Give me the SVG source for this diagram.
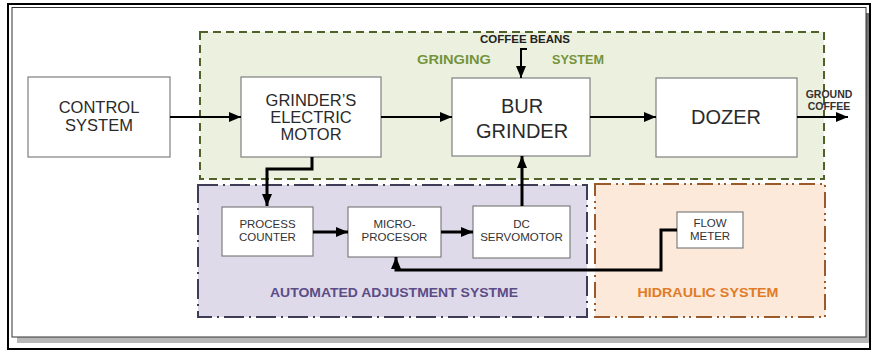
<svg xmlns="http://www.w3.org/2000/svg" width="872" height="350" viewBox="0 0 872 350">
<defs>
<marker id="ah" viewBox="0 0 12 10" markerWidth="12" markerHeight="10" refX="12" refY="5" orient="auto" markerUnits="userSpaceOnUse"><path d="M0,0 L12,5 L0,10 z" fill="#000"/></marker>
<linearGradient id="sh" x1="0" y1="0" x2="0" y2="1"><stop offset="0" stop-color="#6e6e6e"/><stop offset="1" stop-color="#b8b8b8"/></linearGradient>
<style>
.box{fill:#fff;stroke:#7f7f7f;stroke-width:1.2}
.big{font-family:"Liberation Sans",Arial,sans-serif;fill:#2a2a2a;text-anchor:middle}
.sm{font-family:"Liberation Sans",Arial,sans-serif;fill:#333;text-anchor:middle;font-size:11.5px}
.lbl{font-family:"Liberation Sans",Arial,sans-serif;font-weight:bold;text-anchor:middle}
.ln{fill:none;stroke:#000;stroke-width:2}
.ln3{fill:none;stroke:#000;stroke-width:3}
</style>
</defs>
<rect x="8" y="4" width="862" height="345" fill="#fff" stroke="#000" stroke-width="2"/>
<rect x="17" y="13" width="852" height="330" fill="url(#sh)"/>
<rect x="12" y="7.5" width="854" height="329.5" fill="#fff" stroke="#333" stroke-width="1"/>

<g id="grinding-system">
<rect x="200" y="32" width="624" height="147" fill="#ebf1de" stroke="#4f6228" stroke-width="2" stroke-dasharray="8 5"/>
<text class="lbl" x="454" y="64" font-size="12" fill="#76933c" textLength="74" lengthAdjust="spacingAndGlyphs">GRINGING</text>
<text class="lbl" x="578" y="64" font-size="12" fill="#76933c" textLength="52" lengthAdjust="spacingAndGlyphs">SYSTEM</text>
</g>
<g id="automated-adjustment-system">
<rect x="198" y="185" width="389" height="132" fill="#dfdaea" stroke="#3f3d56" stroke-width="2" stroke-dasharray="20 5 2 5"/>
<text class="lbl" x="394" y="297" font-size="12" fill="#5b4c86" textLength="248" lengthAdjust="spacingAndGlyphs">AUTOMATED ADJUSTMENT SYSTME</text>
</g>
<g id="hidraulic-system">
<rect x="595" y="184" width="230" height="133" fill="#fde9d9" stroke="#9c5a2a" stroke-width="2" stroke-dasharray="16 5 2 4 2 5"/>
<text class="lbl" x="708" y="297" font-size="12" fill="#e07b28" textLength="141" lengthAdjust="spacingAndGlyphs">HIDRAULIC SYSTEM</text>
</g>

<g id="control-system">
<rect class="box" x="28" y="77" width="142" height="80"/>
<text class="big" font-size="16.5" x="99" y="113">CONTROL</text>
<text class="big" font-size="16.5" x="99" y="131">SYSTEM</text>
</g>
<g id="grinders-electric-motor">
<rect class="box" x="241" y="77" width="140" height="80"/>
<text class="big" font-size="16.5" x="311" y="106">GRINDER’S</text>
<text class="big" font-size="16.5" x="311" y="123">ELECTRIC</text>
<text class="big" font-size="16.5" x="311" y="140">MOTOR</text>
</g>
<g id="bur-grinder">
<rect class="box" x="452" y="78" width="138" height="78"/>
<text class="big" font-size="20" x="522" y="113">BUR</text>
<text class="big" font-size="20" x="522" y="138">GRINDER</text>
</g>
<g id="dozer">
<rect class="box" x="656" y="78" width="141" height="79"/>
<text class="big" font-size="20" x="726" y="124">DOZER</text>
</g>
<g id="process-counter">
<rect class="box" x="222" y="207" width="91" height="49"/>
<text class="sm" x="267.5" y="228">PROCESS</text>
<text class="sm" x="267.5" y="241">COUNTER</text>
</g>
<g id="microprocesor">
<rect class="box" x="348" y="207" width="93" height="50"/>
<text class="sm" x="394.5" y="228">MICRO-</text>
<text class="sm" x="394.5" y="241">PROCESOR</text>
</g>
<g id="dc-servomotor">
<rect class="box" x="473" y="206" width="97" height="52"/>
<text class="sm" x="521.5" y="228">DC</text>
<text class="sm" x="521.5" y="241">SERVOMOTOR</text>
</g>
<g id="flow-meter">
<rect class="box" x="677" y="212" width="66" height="36"/>
<text class="sm" x="710" y="227">FLOW</text>
<text class="sm" x="710" y="239.5">METER</text>
</g>

<g id="labels">
<text class="lbl" x="525" y="43" font-size="10" fill="#222" textLength="90" lengthAdjust="spacingAndGlyphs">COFFEE BEANS</text>
<text class="lbl" x="829" y="97.5" font-size="10.5" fill="#333">GROUND</text>
<text class="lbl" x="829" y="110" font-size="10.5" fill="#333">COFFEE</text>
</g>

<g id="connectors">
<path class="ln" d="M170 117 H241" marker-end="url(#ah)"/>
<path class="ln" d="M381 117 H452" marker-end="url(#ah)"/>
<path class="ln" d="M590 117 H656" marker-end="url(#ah)"/>
<path class="ln" d="M797 117 H848" marker-end="url(#ah)"/>
<path class="ln" d="M527 49 H521 V78" marker-end="url(#ah)"/>
<path class="ln3" d="M312 157 V169 H267 V206" marker-end="url(#ah)"/>
<path class="ln3" d="M313 232 H348" marker-end="url(#ah)"/>
<path class="ln3" d="M441 232 H473" marker-end="url(#ah)"/>
<path class="ln3" d="M522 206 V156" marker-end="url(#ah)"/>
<path class="ln3" d="M677 230 H661 V270 H396 V257" marker-end="url(#ah)"/>
</g>
</svg>
